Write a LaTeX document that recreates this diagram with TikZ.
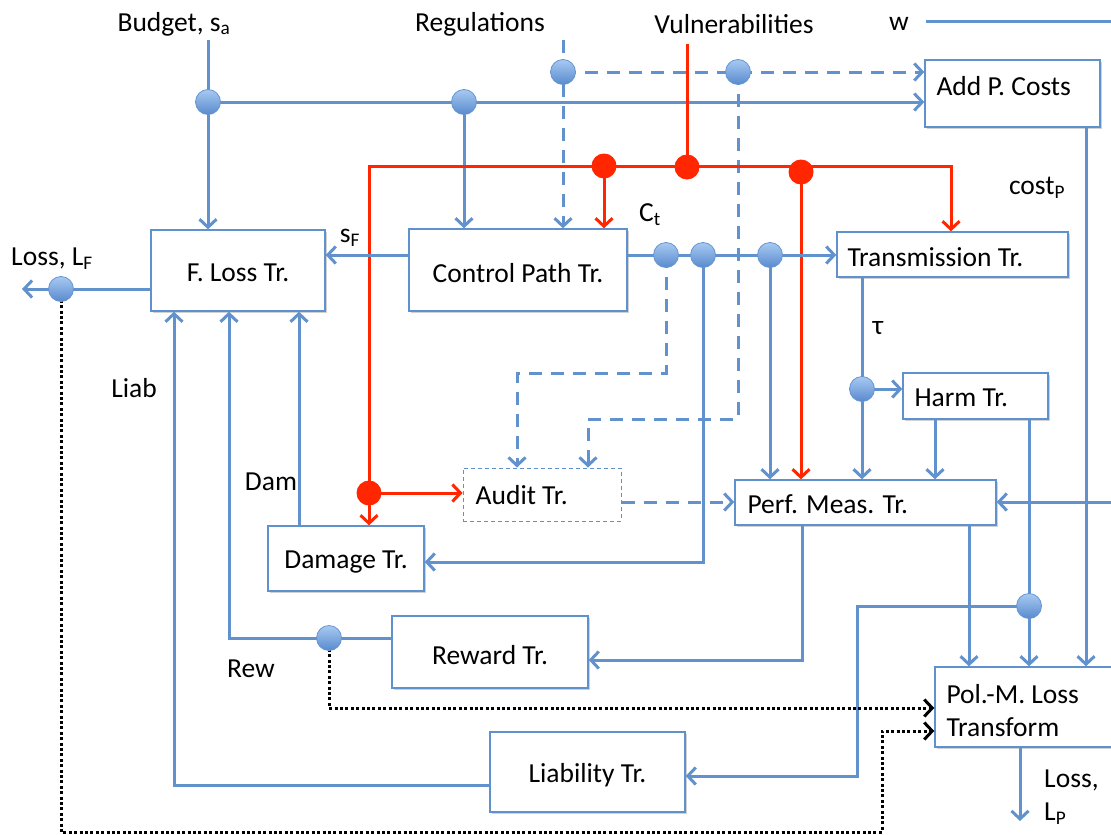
\documentclass[tikz,border=0pt]{standalone}
\usepackage{fontspec}
\setmainfont{Carlito}
\usetikzlibrary{arrows.meta,shadows}
\definecolor{flowblue}{RGB}{98,146,206}
\definecolor{boxblue}{RGB}{95,145,205}
\definecolor{sigred}{RGB}{255,38,0}
\definecolor{balltop}{RGB}{168,202,242}
\definecolor{ballbot}{RGB}{88,138,205}
\definecolor{ballrim}{RGB}{100,148,210}
\tikzset{
  txt/.style={font=\fontsize{27.5}{33}\selectfont, inner sep=0pt},
  boxshadow/.style={drop shadow={shadow xshift=1.5pt, shadow yshift=-2pt, opacity=0.18, fill=black}},
  box/.style={draw=boxblue, line width=1.4pt, fill=white, inner sep=0pt, boxshadow},
  auditbox/.style={draw=boxblue, line width=1pt, dash pattern=on 4pt off 3pt, fill=white, inner sep=0pt},
  arrowend/.style={-{Straight Barb[length=8pt,width=17pt]}},
  wire/.style={draw=flowblue, line width=3pt},
  flow/.style={wire, arrowend},
  dflow/.style={wire, dash pattern=on 13pt off 9pt, arrowend},
  rwire/.style={draw=sigred, line width=3pt},
  rflow/.style={rwire, arrowend},
  dotflow/.style={draw=black, line width=3pt, dash pattern=on 3pt off 2.4pt, arrowend},
  ball/.style={circle, minimum size=25pt, inner sep=0pt, draw=ballrim, line width=0.8pt, top color=balltop, bottom color=ballbot},
  rball/.style={circle, minimum size=25pt, inner sep=0pt, fill=sigred},
}
\begin{document}
\begin{tikzpicture}[x=1pt,y=-1pt]
\useasboundingbox (0,0) rectangle (1111,835);
\clip (0,0) rectangle (1111,835);
\fill[white] (0,0) rectangle (1111,835);

% transformer boxes
\node[box, minimum width=175pt, minimum height=67pt,
      label={[txt, anchor=west, xshift=12pt, yshift=7.5pt]west:Add P. Costs}] (add) at (1012.5,93.5) {};
\node[box, minimum width=174pt, minimum height=81pt,
      label={[txt, yshift=-2.5pt]center:F. Loss Tr.}] (floss) at (238,270.5) {};
\node[box, minimum width=218pt, minimum height=82pt,
      label={[txt, yshift=-3pt]center:Control Path Tr.}] (ctrl) at (518,270) {};
\node[box, minimum width=231pt, minimum height=45pt,
      label={[txt, anchor=west, xshift=11pt, yshift=-2.5pt]west:Transmission Tr.}] (trans) at (952.5,254.5) {};
\node[box, minimum width=145pt, minimum height=46pt,
      label={[txt, anchor=west, xshift=12pt, yshift=-2pt]west:Harm Tr.}] (harm) at (975.5,396) {};
\node[auditbox, minimum width=158pt, minimum height=53pt,
      label={[txt, anchor=west, xshift=13pt, yshift=-1pt]west:Audit Tr.}] (audit) at (542,494.5) {};
\node[box, minimum width=261pt, minimum height=45pt,
      label={[txt, anchor=west, xshift=13pt, yshift=-2pt]west:Perf. Meas. Tr.}] (perf) at (865.5,502.5) {};
\node[box, minimum width=156pt, minimum height=65pt,
      label={[txt, yshift=-3.5pt]center:Damage Tr.}] (damage) at (346,558.5) {};
\node[box, minimum width=196pt, minimum height=72pt,
      label={[txt, yshift=-3pt]center:Reward Tr.}] (reward) at (490,652) {};
\node[box, minimum width=195pt, minimum height=80pt,
      label={[txt, yshift=-3pt]center:Liability Tr.}] (liab) at (587.5,772) {};
\node[box, minimum width=205pt, minimum height=80pt,
      label={[txt, anchor=west, align=left, xshift=12pt, yshift=-3.5pt]west:Pol.-M. Loss\\Transform}] (polm) at (1037.5,707) {};

% free texts
\node[txt] (budget) at (174,24) {Budget, s\textsubscript{a}};
\node[txt] (regs) at (480,24) {Regulations};
\node[txt] (vulns) at (734,24) {Vulnerabilities};
\node[txt] (w) at (899,24) {w};
\node[txt] (sF) at (350,238) {s\textsubscript{F}};
\node[txt] (Ct) at (650,215) {C\textsubscript{t}};
\node[txt] (costP) at (1037,188) {cost\textsubscript{P}};
\node[txt] (tau) at (878,328) {τ};
\node[txt] (lossF) at (52,259) {Loss, L\textsubscript{F}};
\node[txt] (liablbl) at (134,388) {Liab};
\node[txt] (damlbl) at (271,482) {Dam};
\node[txt] (rewlbl) at (251,669) {Rew};
\node[txt, anchor=west, align=left] (lossP) at (1044,797) {Loss,\\L\textsubscript{P}};

% junction points and free ends
\coordinate (bin) at (208,40);
\coordinate (regin) at (563,40);
\coordinate (vin) at (687,44);
\coordinate (win) at (926,21);
\coordinate (wend) at (1115,21);
\coordinate (jb) at (208,102);
\coordinate (jr) at (464,102);
\coordinate (jreg) at (563,72);
\coordinate (jdash) at (738,72);
\coordinate (rv1) at (604,166);
\coordinate (rv2) at (687,167);
\coordinate (rv3) at (801,172);
\coordinate (rcorner) at (951,166);
\coordinate (rdam) at (369,493);
\coordinate (jc1) at (666,255);
\coordinate (jc2) at (703,255);
\coordinate (jc3) at (770,255);
\coordinate (jtau) at (862,389);
\coordinate (jharm) at (1029,606);
\coordinate (jrew) at (329,638);
\coordinate (jloss) at (61,289);
\coordinate (lfout) at (22,289);
\coordinate (lpout) at (1020,821);
\coordinate (pin) at (1115,502);

% budget and regulation inputs
\draw[flow] (bin) -- (floss.north -| bin);
\draw[flow] (jb) -- (add.west |- jb);
\draw[flow] (jr) -- (ctrl.north -| jr);
\draw[dflow] (regin) -- (ctrl.north -| regin);
\draw[dflow] (jreg) -- (add.west |- jreg);
\draw[dflow] (jdash) |- (588,419) -- (audit.north -| 588,0);
\draw[wire] (win) -- (wend);

% vulnerabilities
\draw[rwire] (vin) -- (rv2);
\draw[rflow] (rdam) |- (rcorner) -- (trans.north -| rcorner);
\draw[rflow] (rv1) -- (ctrl.north -| rv1);
\draw[rflow] (rv3) -- (perf.north -| rv3);
\draw[rflow] (rdam) -- (damage.north -| rdam);
\draw[rflow] (rdam) -- (audit.west |- rdam);

% control path outputs
\draw[flow] (ctrl.west |- 0,255) -- (floss.east |- 0,255);
\draw[flow] (floss.west |- jloss) -- (lfout);
\draw[dotflow] (jloss) |- (882,832) |- (polm.west |- 0,731);
\draw[flow] (ctrl.east |- jc1) -- (trans.west |- jc1);
\draw[dflow] (jc1) |- (517,373) -- (audit.north -| 517,0);
\draw[flow] (jc2) |- (damage.east |- 0,562);
\draw[flow] (jc3) -- (perf.north -| jc3);

% transmission, harm and performance measurement
\draw[flow] (trans.south -| jtau) -- (perf.north -| jtau);
\draw[flow] (jtau) -- (harm.west |- jtau);
\draw[flow] (harm.south -| 935,0) -- (perf.north -| 935,0);
\draw[flow] (harm.south -| jharm) -- (polm.north -| jharm);
\draw[flow] (jharm) -| (857,776) -- (liab.east |- 0,776);
\draw[flow] (perf.south -| 969,0) -- (polm.north -| 969,0);
\draw[flow] (add.south -| 1086,0) -- (polm.north -| 1086,0);
\draw[flow] (pin) -- (perf.east |- pin);
\draw[dflow] (audit.east |- 0,502) -- (perf.west |- 0,502);

% rewards, damages and liabilities back to the firm
\draw[flow] (perf.south -| 802,0) |- (reward.east |- 0,660);
\draw[flow] (reward.west |- jrew) -| (floss.south -| 229,0);
\draw[dotflow] (jrew) |- (polm.west |- 0,708);
\draw[flow] (damage.north -| 299,0) -- (floss.south -| 299,0);
\draw[flow] (liab.west |- 0,785) -| (floss.south -| 174,0);
\draw[flow] (polm.south -| lpout) -- (lpout);

% junction dots
\foreach \p in {jb,jr,jreg,jdash,jc1,jc2,jc3,jtau,jharm,jrew,jloss}
  \node[ball] (\p dot) at (\p) {};
\foreach \p in {rv1,rv2,rv3,rdam}
  \node[rball] (\p dot) at (\p) {};
\end{tikzpicture}
\end{document}
